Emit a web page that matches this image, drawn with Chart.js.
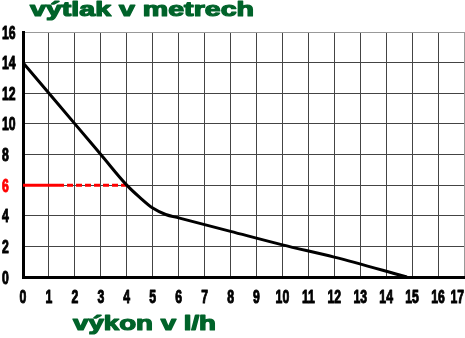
<!DOCTYPE html>
<html>
<head>
<meta charset="utf-8">
<script src="https://cdn.jsdelivr.net/npm/chart.js@4.4.1/dist/chart.umd.min.js"></script>
<style>
  body { margin: 0; background: #fff; }
  #wrap { width: 465px; height: 338px; position: relative; }
</style>
</head>
<body>
<div id="wrap"><canvas id="pumpChart"></canvas></div>
<script>
// charakteristika cerpadla
const flowValues = [0, 1, 2, 3, 4, 4.5, 5, 5.5, 6, 8, 10, 12, 14.8]
const headValues = [14, 12, 10, 8, 6, 5.2, 4.5, 4.08, 3.86, 2.98, 2.1, 1.3, 0]

// pracovni bod - cervena cara na 6 m
const markFlow = [0, 1.35, 4]
const markHead = [6, 6, 6]

const xTicks = [0, 1, 2, 3, 4, 5, 6, 7, 8, 9, 10, 11, 12, 13, 14, 15, 16, 17]
const yTicks = [0, 2, 4, 6, 8, 10, 12, 14, 16]
const redTick = 6

const titleTop = 'výtlak v metrech'
const titleBottom = 'výkon v l/h'
const green = '#00632a'

const toPoints = (xs, ys) => xs.map((x, i) => ({ x: x, y: ys[i] }))

// text vykreslime sami, at jde zuzit / roztahnout
const labelsPlugin = {
    id: 'labels',
    afterDraw(chart) {
        const ctx = chart.ctx
        const sx = chart.scales.x
        const sy = chart.scales.y

        const stretched = (text, x, y, width, bold) => {
            const w = ctx.measureText(text).width
            const k = width ? width / w : 1
            ctx.save()
            ctx.translate(x, y)
            ctx.scale(k, 1)
            ctx.textAlign = 'left'
            ctx.fillText(text, 0, 0)
            ctx.strokeStyle = ctx.fillStyle
            ctx.lineWidth = bold
            ctx.lineJoin = 'round'
            ctx.strokeText(text, 0, 0)
            ctx.restore()
        }

        ctx.save()
        ctx.textBaseline = 'alphabetic'
        ctx.font = 'bold 18px "Liberation Sans", Arial, sans-serif'
        yTicks.forEach(v => {
            ctx.fillStyle = v === redTick ? '#ff0000' : '#000'
            const txt = String(v)
            const w = ctx.measureText(txt).width * 0.68
            stretched(txt, 2, sy.getPixelForValue(v) + 6.5, w, 1)
        })
        ctx.fillStyle = '#000'
        xTicks.forEach(v => {
            const txt = String(v)
            const w = ctx.measureText(txt).width * 0.68
            let left = sx.getPixelForValue(v) - w / 2
            left = Math.min(left, chart.width - w - 1)
            stretched(txt, left, 303, w, 1)
        })

        ctx.fillStyle = green
        ctx.font = 'bold 20px "Liberation Sans", Arial, sans-serif'
        stretched(titleTop, 30, 16, 224, 1.2)
        stretched(titleBottom, 73, 330, 143, 1.2)
        ctx.restore()
    }
}

const ctx = document.getElementById('pumpChart').getContext('2d')
const pumpChart = new Chart(ctx, {
    type: 'line',
    data: {
        datasets: [{
            data: toPoints(markFlow, markHead),
            borderColor: '#ff0000',
            borderWidth: 3,
            pointRadius: 0,
            segment: {
                borderDash: c => c.p0DataIndex === 1 ? [6, 3] : undefined
            },
            order: 1
        }, {
            data: toPoints(flowValues, headValues),
            borderColor: '#000',
            borderWidth: 3,
            pointRadius: 0,
            cubicInterpolationMode: 'monotone',
            order: 0
        }]
    },
    options: {
        responsive: true,
        maintainAspectRatio: false,
        animation: false,
        layout: {
            padding: { left: 23, right: 1, top: 32, bottom: 61 }
        },
        plugins: {
            legend: { display: false },
            tooltip: { enabled: false }
        },
        scales: {
            x: {
                type: 'linear',
                min: 0,
                max: 17,
                ticks: { display: false, stepSize: 1 },
                grid: {
                    color: c => c.tick && c.tick.value === 17 ? '#999' : '#444',
                    lineWidth: 1,
                    drawTicks: false
                },
                border: { color: '#000', width: 3 }
            },
            y: {
                min: 0,
                max: 16,
                ticks: { display: false, stepSize: 2 },
                grid: {
                    color: c => c.tick && c.tick.value === 16 ? '#999' : '#444',
                    lineWidth: 1,
                    drawTicks: false
                },
                border: { color: '#000', width: 3 }
            }
        }
    },
    plugins: [labelsPlugin]
})
</script>
</body>
</html>
